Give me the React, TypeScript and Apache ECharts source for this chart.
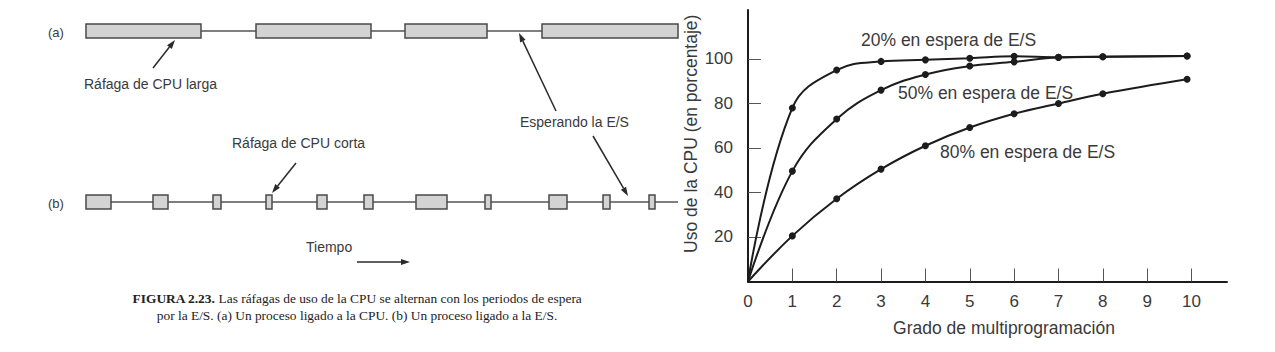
import React, { useEffect, useRef } from 'react';
import * as echarts from 'echarts';

// ---- Right chart: CPU utilisation vs degree of multiprogramming ----
const xTickLabels = [0, 1, 2, 3, 4, 5, 6, 7, 8, 9, 10];
const yTickLabels = [20, 40, 60, 80, 100];
const seriesNames = ['20% en espera de E/S', '50% en espera de E/S', '80% en espera de E/S'];
const wait20 = [[0, 0], [1, 78], [2, 95], [3, 98.9], [4, 99.6], [5, 100.3], [6, 101.2], [7, 100.8], [8, 101], [9.9, 101.3]];
const wait50 = [[0, 0], [1, 49.6], [2, 73], [3, 86], [4, 93], [5, 96.8], [6, 98.7], [7, 100.7], [8, 101], [9.9, 101.3]];
const wait80 = [[0, 0], [1, 20.5], [2, 37.2], [3, 50.5], [4, 61], [5, 69.2], [6, 75.4], [7, 80], [8, 84.4], [9.9, 90.9]];

// ---- Left diagram: CPU bursts over time (time units) ----
const timelineEnd = 592;
const cpuBoundBursts = [[0, 115], [170, 285], [319, 401], [456, 592]];
const ioBoundBursts = [[0, 25], [67, 82], [127, 135], [180, 186], [231, 241], [278, 287], [330, 361], [399, 405], [463, 481], [517, 524], [563, 569]];
const rowLabels = ['(a)', '(b)'];

const SANS = '"Liberation Sans", Arial, Helvetica, sans-serif';
const SERIF = '"Liberation Serif", "Times New Roman", serif';
const INK = '#1c1c1c';
const TXT = '#3a3a3a';

function arrow(x1: number, y1: number, x2: number, y2: number, color = '#2a2a2a') {
  const a = Math.atan2(y2 - y1, x2 - x1);
  const L = 9, W = 3;
  const c = Math.cos(a), s = Math.sin(a);
  const bx = x2 - L * c, by = y2 - L * s;
  const px = -s * W, py = c * W;
  return [
    { type: 'line', shape: { x1, y1, x2: bx, y2: by }, style: { stroke: color, lineWidth: 1.5 } },
    { type: 'polygon', shape: { points: [[x2, y2], [bx + px, by + py], [bx - px, by - py]] }, style: { fill: color } },
  ];
}

function txt(x: number, y: number, text: string, size: number, extra: any = {}) {
  return {
    type: 'text', x, y,
    style: { text, fontSize: size, fontFamily: SANS, fill: TXT, verticalAlign: 'middle', align: 'left', ...extra },
  };
}

export default function App() {
  const ref = useRef<HTMLDivElement>(null);
  useEffect(() => {
    document.body.style.margin = '0';
    const chart = echarts.init(ref.current!, null, { renderer: 'svg' });

    const burstItems = [
      ...cpuBoundBursts.map((b) => [b[0], b[1], 1]),
      ...ioBoundBursts.map((b) => [b[0], b[1], 0]),
    ];

    const mkLine = (name: string, data: number[][]) => ({
      name,
      type: 'line',
      xAxisIndex: 0,
      yAxisIndex: 0,
      data,
      smooth: 0.4,
      clip: false,
      symbol: (v: number[]) => (v[0] === 0 ? 'none' : 'circle'),
      symbolSize: 7,
      lineStyle: { color: INK, width: 2 },
      itemStyle: { color: INK },
      z: 3,
    });

    const option: any = {
      animation: false,
      backgroundColor: '#ffffff',
      grid: [
        { left: 748, top: 10, width: 479, height: 271.5 },
        { left: 86, top: 31, width: 592, height: 171 },
      ],
      xAxis: [
        {
          gridIndex: 0, type: 'value', min: 0, max: 10.8,
          axisLine: { show: true, lineStyle: { color: INK, width: 2 } },
          axisTick: { show: true, inside: true, length: 13, customValues: xTickLabels.slice(1), lineStyle: { color: '#555', width: 1 } },
          axisLabel: { customValues: xTickLabels, fontSize: 17, color: TXT, margin: 11, fontFamily: SANS },
          splitLine: { show: false },
          name: 'Grado de multiprogramación',
          nameLocation: 'middle', nameGap: 37,
          nameTextStyle: { fontSize: 17.5, color: TXT, fontFamily: SANS, padding: [0, 0, 0, 33] },
        },
        { gridIndex: 1, type: 'value', min: 0, max: timelineEnd, show: false },
      ],
      yAxis: [
        {
          gridIndex: 0, type: 'value', min: 0, max: 122,
          axisLine: { show: true, lineStyle: { color: INK, width: 2 } },
          axisTick: { show: true, inside: true, length: 13, customValues: yTickLabels, lineStyle: { color: '#555', width: 1 } },
          axisLabel: { customValues: yTickLabels, fontSize: 17, color: TXT, margin: 15, fontFamily: SANS },
          splitLine: { show: false },
          name: 'Uso de la CPU (en porcentaje)',
          nameLocation: 'middle', nameGap: 48,
          nameTextStyle: { fontSize: 17.5, color: TXT, fontFamily: SANS, padding: [0, 0, 0, 24] },
        },
        { gridIndex: 1, type: 'value', min: 0, max: 1, show: false },
      ],
      series: [
        mkLine(seriesNames[0], wait20),
        mkLine(seriesNames[1], wait50),
        mkLine(seriesNames[2], wait80),
        {
          type: 'line', xAxisIndex: 1, yAxisIndex: 1, clip: false, symbol: 'none',
          data: [[0, 1], [timelineEnd, 1]], lineStyle: { color: '#555', width: 1.5 }, z: 1,
        },
        {
          type: 'line', xAxisIndex: 1, yAxisIndex: 1, clip: false, symbol: 'none',
          data: [[0, 0], [timelineEnd, 0]], lineStyle: { color: '#555', width: 1.5 }, z: 1,
        },
        {
          type: 'custom', xAxisIndex: 1, yAxisIndex: 1, clip: false, z: 2,
          encode: { x: [0, 1], y: 2 },
          data: burstItems,
          renderItem: (params: any, api: any) => {
            const s = api.coord([api.value(0), api.value(2)]);
            const e = api.coord([api.value(1), api.value(2)]);
            return {
              type: 'rect',
              shape: { x: s[0], y: s[1] - 7, width: e[0] - s[0], height: 14 },
              style: { fill: '#d3d3d3', stroke: '#4a4a4a', lineWidth: 1.5 },
            };
          },
        },
      ],
      graphic: [
        txt(48, 32, rowLabels[0], 13),
        txt(48, 203, rowLabels[1], 13),
        txt(84, 84, 'Ráfaga de CPU larga', 14),
        txt(520, 122, 'Esperando la E/S', 14),
        txt(232, 143, 'Ráfaga de CPU corta', 14),
        txt(306, 247, 'Tiempo', 14),
        ...arrow(153, 68, 175, 40),
        ...arrow(556, 111, 519, 33),
        ...arrow(593, 136, 628, 196),
        ...arrow(296, 163, 272, 193),
        ...arrow(357, 262, 410, 262),
        {
          type: 'text', x: 357, y: 298,
          style: {
            text: '{b|FIGURA 2.23.} Las ráfagas de uso de la CPU se alternan con los periodos de espera',
            fontSize: 13.4, fontFamily: SERIF, fill: '#222', align: 'center', verticalAlign: 'middle',
            rich: { b: { fontWeight: 'bold', fontSize: 13.4, fontFamily: SERIF, fill: '#222' } },
          },
        },
        {
          type: 'text', x: 357, y: 315,
          style: {
            text: 'por la E/S. (a) Un proceso ligado a la CPU. (b) Un proceso ligado a la E/S.',
            fontSize: 13.4, fontFamily: SERIF, fill: '#222', align: 'center', verticalAlign: 'middle',
          },
        },
        txt(861, 40, seriesNames[0], 17.5),
        txt(898, 93, seriesNames[1], 17.5),
        txt(940, 152, seriesNames[2], 17.5),
      ],
    };
    chart.setOption(option);
    return () => chart.dispose();
  }, []);
  return <div ref={ref} style={{ width: 1275, height: 352 }} />;
}
